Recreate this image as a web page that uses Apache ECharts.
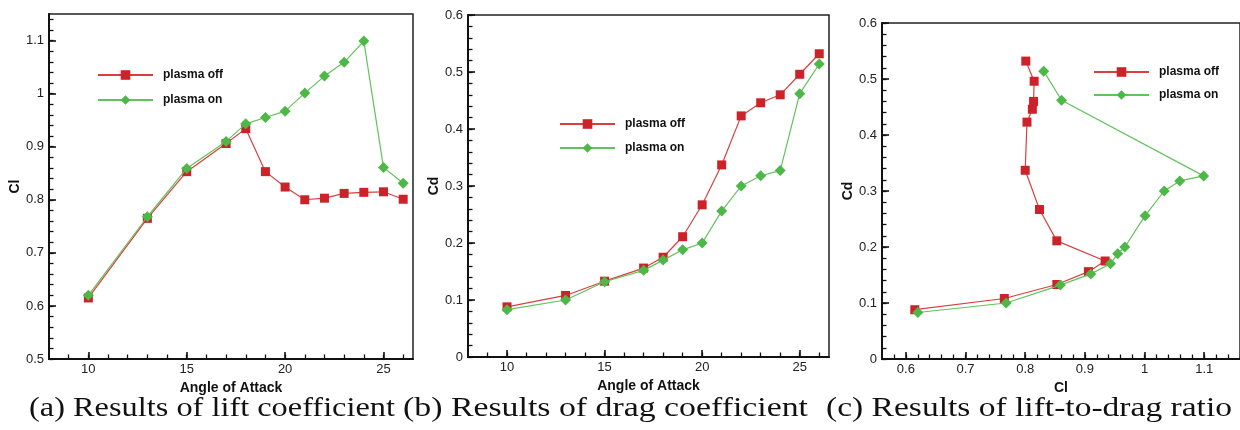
<!DOCTYPE html>
<html>
<head>
<meta charset="utf-8">
<script src="https://cdn.jsdelivr.net/npm/echarts@6/dist/echarts.min.js"></script>
<style>
  html, body { margin: 0; padding: 0; background: #fff; }
  #main { width: 1240px; height: 430px; }
</style>
</head>
<body>
<div id="main"></div>
<script>
// ---------------- data ----------------
var alpha = [10, 13, 15, 17, 18, 19, 20, 21, 22, 23, 24, 25, 26];
var clOff = [0.615, 0.765, 0.853, 0.906, 0.934, 0.853, 0.824, 0.800, 0.803, 0.812, 0.814, 0.815, 0.801];
var clOn  = [0.620, 0.768, 0.859, 0.910, 0.943, 0.955, 0.967, 1.001, 1.033, 1.059, 1.099, 0.861, 0.831];
var cdOff = [0.088, 0.108, 0.133, 0.156, 0.175, 0.211, 0.267, 0.337, 0.423, 0.446, 0.460, 0.496, 0.532];
var cdOn  = [0.083, 0.100, 0.132, 0.152, 0.170, 0.188, 0.200, 0.256, 0.300, 0.318, 0.327, 0.462, 0.514];

var alphaTicks = [10, 15, 20, 25];
var clTicks = [0.5, 0.6, 0.7, 0.8, 0.9, 1, 1.1];
var cdTicks = [0, 0.1, 0.2, 0.3, 0.4, 0.5, 0.6];
var clxTicks = [0.6, 0.7, 0.8, 0.9, 1, 1.1];

var captions = [
  '(a) Results of lift coefficient',
  '(b) Results of drag coefficient',
  '(c) Results of lift-to-drag ratio'
];

var RED = '#cc2229', RED_LINE = '#d8403f';
var GREEN = '#4db748', GREEN_LINE = '#62c25c';

function steps(from, to, step) {
  var out = [];
  for (var v = from; v <= to + 1e-9; v += step) out.push(Math.round(v * 1000) / 1000);
  return out;
}

function pairs(xs, ys) {
  return xs.map(function (x, i) { return [x, ys[i]]; });
}

// major axis (line, labels, long ticks) + minor axis (short ticks only)
function axisPair(dim, grid, min, max, major, minor, name, gap) {
  var isX = dim === 'x';
  var base = {
    type: 'value', gridIndex: grid, min: min, max: max,
    position: isX ? 'bottom' : 'left', splitLine: { show: false }
  };
  var maj = Object.assign({}, base, {
    name: name, nameLocation: 'middle', nameGap: gap,
    nameRotate: isX ? 0 : 90,
    nameTextStyle: { fontFamily: 'Liberation Sans', fontWeight: 'bold', fontSize: 14, color: '#111' },
    axisLine: { show: true, onZero: false, lineStyle: { color: '#111', width: 2 } },
    axisTick: { show: true, inside: true, length: 7, customValues: major, lineStyle: { color: '#111', width: 1.6 } },
    axisLabel: { show: true, customValues: major, margin: isX ? 4 : 5, fontFamily: 'Liberation Sans', fontSize: 13, color: '#222' }
  });
  var mino = Object.assign({}, base, {
    axisLine: { show: false, onZero: false },
    axisTick: { show: true, inside: true, length: 4.5, customValues: minor, lineStyle: { color: '#111', width: 1.3 } },
    axisLabel: { show: false }
  });
  return [maj, mino];
}

var grids = [
  { left: 49, top: 14, width: 364, height: 345 },
  { left: 468, top: 15, width: 361, height: 342 },
  { left: 882, top: 23, width: 366, height: 336 }
];
grids.forEach(function (g) {
  g.show = true; g.borderColor = '#222'; g.borderWidth = 1.5; g.backgroundColor = 'transparent';
});

var xAxes = [].concat(
  axisPair('x', 0, 8, 26.5, alphaTicks, steps(9, 26, 1), 'Angle of Attack', 15),
  axisPair('x', 1, 8, 26.5, alphaTicks, steps(9, 26, 1), 'Angle of Attack', 13),
  axisPair('x', 2, 0.56, 1.16, clxTicks, steps(0.58, 1.16, 0.02), 'Cl', 14)
);
var yAxes = [].concat(
  axisPair('y', 0, 0.5, 1.15, clTicks, steps(0.5, 1.14, 0.02), 'Cl', 25),
  axisPair('y', 1, 0, 0.6, cdTicks, steps(0, 0.6, 0.02), 'Cd', 25),
  axisPair('y', 2, 0, 0.6, cdTicks, steps(0, 0.6, 0.02), 'Cd', 25)
);

function lineSeries(name, data, panel, off) {
  return {
    name: name, type: 'line', xAxisIndex: panel * 2, yAxisIndex: panel * 2,
    data: data,
    symbol: off ? 'rect' : 'diamond',
    symbolSize: off ? 9 : 11,
    itemStyle: { color: off ? RED : GREEN },
    lineStyle: { color: off ? RED_LINE : GREEN_LINE, width: 1.2 },
    z: off ? 3 : 4,
    animation: false
  };
}

var series = [
  lineSeries('plasma off', pairs(alpha, clOff), 0, true),
  lineSeries('plasma on', pairs(alpha, clOn), 0, false),
  lineSeries('plasma off', pairs(alpha, cdOff), 1, true),
  lineSeries('plasma on', pairs(alpha, cdOn), 1, false),
  lineSeries('plasma off', pairs(clOff, cdOff), 2, true),
  lineSeries('plasma on', pairs(clOn, cdOn), 2, false)
];

function legendAt(left, top, gap) {
  return {
    data: ['plasma off', 'plasma on'], orient: 'vertical', left: left, top: top,
    itemWidth: 55, itemHeight: 12, itemGap: gap, selectedMode: false,
    textStyle: { fontFamily: 'Liberation Sans', fontWeight: 'bold', fontSize: 12, color: '#111', padding: [0, 0, 0, 5] }
  };
}

// captions: serif text stretched to the width it takes in the figure
var capFont = '27px "Liberation Serif"';
var capSpan = [[29, 395], [403, 808], [826, 1232]];
var measure = document.createElement('canvas').getContext('2d');
measure.font = capFont;
var captionGraphics = captions.map(function (t, i) {
  var w = measure.measureText(t).width;
  return {
    type: 'text', x: capSpan[i][0], y: 395,
    scaleX: (capSpan[i][1] - capSpan[i][0]) / w,
    style: { text: t, font: capFont, fill: '#111' }
  };
});

var chart = echarts.init(document.getElementById('main'), null, { renderer: 'canvas' });

chart.setOption({
  backgroundColor: '#fff',
  animation: false,
  grid: grids,
  xAxis: xAxes,
  yAxis: yAxes,
  legend: [legendAt(92, 64, 13), legendAt(554, 113, 12), legendAt(1088, 61, 11)],
  series: series,
  graphic: captionGraphics
});
</script>
</body>
</html>
